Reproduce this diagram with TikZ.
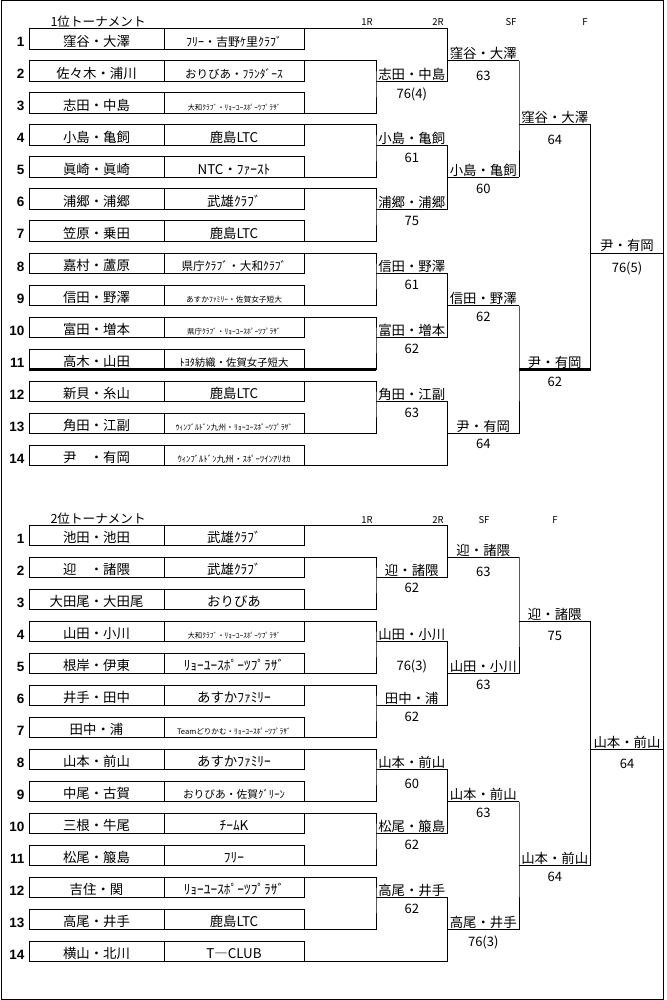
\documentclass[tikz,border=0pt]{standalone}
\usepackage{fontspec}
\usepackage{graphicx}
\setmainfont{Noto Sans CJK JP}
\newfontfamily\numfont{Liberation Sans}
\usetikzlibrary{positioning}

% shrink a long club name to the width of its cell text
\newcommand{\fitw}[2]{\resizebox{#1pt}{!}{#2}}

\tikzset{
  namebox/.style={draw, anchor=north west, minimum width=135pt, minimum height=20.5pt,
    inner sep=0pt, outer sep=0pt, text height=15pt, text depth=0pt,
    font=\fontsize{13.4}{14}\selectfont},
  clubbox/.style={namebox, minimum width=140pt},
  rownum/.style={anchor=base east, inner sep=0pt, font=\numfont\bfseries\fontsize{13.5}{14}\selectfont},
  winner/.style={anchor=south west, minimum width=71.5pt, inner sep=0pt, outer sep=0pt,
    text depth=2pt, font=\fontsize{13.4}{14}\selectfont},
  finalist/.style={winner, minimum width=73pt},
  score/.style={inner sep=0pt, text height=9.5pt, text depth=0pt, font=\fontsize{13}{14}\selectfont},
  roundlabel/.style={inner sep=0pt, font=\fontsize{9.5}{10}\selectfont},
  title/.style={anchor=west, inner sep=0pt, font=\fontsize{12.6}{13}\selectfont},
  heavy/.style={line width=2.2pt},
}

\begin{document}
\begin{tikzpicture}[x=1pt, y=-1pt, line width=1pt]
    \useasboundingbox (0,0) rectangle (666,1000);
    \draw (1,1) rectangle (663.5,999);

    % round columns
    \coordinate (R1) at (376,0);
    \coordinate (R2) at (447.5,0);
    \coordinate (SF) at (519,0);
    \coordinate (FN) at (590.5,0);

    % 1st place tournament
    \node[title] (Atitle) at (50,21.5) {1位トーナメント};
    \node[roundlabel] (Ar1) at (367,22.5) {1R};
    \node[roundlabel] (Ar2) at (438,22.5) {2R};
    \node[roundlabel] (Arsf) at (511,22.5) {SF};
    \node[roundlabel] (Arf) at (585,22.5) {F};
    \foreach \n/\name/\club in {
        1/窪谷・大澤/{\fitw{96}{ﾌﾘｰ・吉野ｹ里ｸﾗﾌﾞ}},
        2/佐々木・浦川/{\fitw{98}{おりびあ・ﾌﾗﾝﾀﾞｰｽ}},
        3/志田・中島/{\fitw{93}{大和ｸﾗﾌﾞ・ﾘｮｰﾕｰｽﾎﾟｰﾂﾌﾟﾗｻﾞ}},
        4/小島・亀飼/鹿島LTC,
        5/眞崎・眞崎/NTC・ﾌｧｰｽﾄ,
        6/浦郷・浦郷/武雄ｸﾗﾌﾞ,
        7/笠原・乗田/鹿島LTC,
        8/嘉村・蘆原/{\fitw{105}{県庁ｸﾗﾌﾞ・大和ｸﾗﾌﾞ}},
        9/信田・野澤/{\fitw{96}{あすかﾌｧﾐﾘｰ・佐賀女子短大}},
        10/富田・増本/{\fitw{94}{県庁ｸﾗﾌﾞ・ﾘｮｰﾕｰｽﾎﾟｰﾂﾌﾟﾗｻﾞ}},
        11/高木・山田/{\fitw{109}{ﾄﾖﾀ紡織・佐賀女子短大}},
        12/新貝・糸山/鹿島LTC,
        13/角田・江副/{\fitw{117}{ｳｨﾝﾌﾞﾙﾄﾞﾝ九州・ﾘｮｰﾕｰｽﾎﾟｰﾂﾌﾟﾗｻﾞ}},
        14/尹　・有岡/{\fitw{113}{ｳｨﾝﾌﾞﾙﾄﾞﾝ九州・ｽﾎﾟｰﾂｲﾝｱﾘｵｶ}}}{
        \pgfmathsetmacro{\rowy}{29+32*(\n-1)}
        \node[namebox] (A\n) at (29,\rowy) {\name};
        \node[clubbox, right=0pt of A\n] (Ac\n) {\club};
        \node[rownum] (An\n) at ([xshift=-4pt,yshift=2.5pt]A\n.south west) {\n};
    }
    \node[winner] (Am23) at (R1 |- A2.south) {志田・中島};
    \node[winner] (Am1) at (R2 |- A2.north) {窪谷・大澤};
    \node[winner] (Am45) at (R1 |- A4.south) {小島・亀飼};
    \node[winner] (Am67) at (R1 |- A6.south) {浦郷・浦郷};
    \node[winner] (Am47) at (R2 |- A5.south) {小島・亀飼};
    \node[winner] (As1) at (SF |- A4.north) {窪谷・大澤};
    \node[winner] (Am89) at (R1 |- A8.south) {信田・野澤};
    \node[winner] (Am1011) at (R1 |- A10.south) {富田・増本};
    \node[winner] (Am811) at (R2 |- A9.south) {信田・野澤};
    \node[winner] (Am1213) at (R1 |- A12.south) {角田・江副};
    \node[winner] (Am14) at (R2 |- A13.south) {尹・有岡};
    \node[winner] (As8) at (SF |- A11.south) {尹・有岡};
    \node[finalist] (Af) at (FN |- A8.north) {尹・有岡};
    \node[score, below=6.75pt of Am23.south] (Ax23) {76(4)};
    \node[score, below=9.25pt of Am1.south] (Ax1) {63};
    \node[score, below=7.25pt of Am45.south] (Ax45) {61};
    \node[score, below=6.25pt of Am67.south] (Ax67) {75};
    \node[score, below=6.25pt of Am47.south] (Ax47) {60};
    \node[score, below=9.25pt of As1.south] (Axs1) {64};
    \node[score, below=6.25pt of Am89.south] (Ax89) {61};
    \node[score, below=6.25pt of Am1011.south] (Ax1011) {62};
    \node[score, below=6.25pt of Am811.south] (Ax811) {62};
    \node[score, below=6.25pt of Am1213.south] (Ax1213) {63};
    \node[score, below=5.25pt of Am14.south] (Ax14) {64};
    \node[score, below=7.25pt of As8.south] (Axs8) {62};
    \node[score, below=9.75pt of Af.south] (Axf) {76(5)};

    % 2nd place tournament
    \node[title] (Btitle) at (50,518.5) {2位トーナメント};
    \node[roundlabel] (Br1) at (367,520) {1R};
    \node[roundlabel] (Br2) at (438,520) {2R};
    \node[roundlabel] (Brsf) at (484,520) {SF};
    \node[roundlabel] (Brf) at (555,520) {F};
    \foreach \n/\name/\club in {
        1/池田・池田/武雄ｸﾗﾌﾞ,
        2/迎　・諸隈/武雄ｸﾗﾌﾞ,
        3/大田尾・大田尾/おりびあ,
        4/山田・小川/{\fitw{93}{大和ｸﾗﾌﾞ・ﾘｮｰﾕｰｽﾎﾟｰﾂﾌﾟﾗｻﾞ}},
        5/根岸・伊東/ﾘｮｰﾕｰｽﾎﾟｰﾂﾌﾟﾗｻﾞ,
        6/井手・田中/あすかﾌｧﾐﾘｰ,
        7/田中・浦/{\fitw{114}{Teamどりかむ・ﾘｮｰﾕｰｽﾎﾟｰﾂﾌﾟﾗｻﾞ}},
        8/山本・前山/あすかﾌｧﾐﾘｰ,
        9/中尾・古賀/{\fitw{102}{おりびあ・佐賀ｸﾞﾘｰﾝ}},
        10/三根・牛尾/ﾁｰﾑK,
        11/松尾・箙島/ﾌﾘｰ,
        12/吉住・関/ﾘｮｰﾕｰｽﾎﾟｰﾂﾌﾟﾗｻﾞ,
        13/高尾・井手/鹿島LTC,
        14/横山・北川/T―CLUB}{
        \pgfmathsetmacro{\rowy}{525+32*(\n-1)}
        \node[namebox] (B\n) at (29,\rowy) {\name};
        \node[clubbox, right=0pt of B\n] (Bc\n) {\club};
        \node[rownum] (Bn\n) at ([xshift=-4pt,yshift=2.5pt]B\n.south west) {\n};
    }
    \node[winner] (Bm23) at (R1 |- B2.south) {迎・諸隈};
    \node[winner] (Bm1) at (R2 |- B2.north) {迎・諸隈};
    \node[winner] (Bm45) at (R1 |- B4.south) {山田・小川};
    \node[winner] (Bm67) at (R1 |- B6.south) {田中・浦};
    \node[winner] (Bm47) at (R2 |- B5.south) {山田・小川};
    \node[winner] (Bs1) at (SF |- B4.north) {迎・諸隈};
    \node[winner] (Bm89) at (R1 |- B8.south) {山本・前山};
    \node[winner] (Bm1011) at (R1 |- B10.south) {松尾・箙島};
    \node[winner] (Bm811) at (R2 |- B9.south) {山本・前山};
    \node[winner] (Bm1213) at (R1 |- B12.south) {高尾・井手};
    \node[winner] (Bm14) at (R2 |- B13.south) {高尾・井手};
    \node[winner] (Bs8) at (SF |- B11.south) {山本・前山};
    \node[finalist] (Bf) at (FN |- B8.north) {山本・前山};
    \node[score, below=4.75pt of Bm23.south] (Bx23) {62};
    \node[score, below=9.75pt of Bm1.south] (Bx1) {63};
    \node[score, below=19.25pt of Bm45.south] (Bx45) {76(3)};
    \node[score, below=5.75pt of Bm67.south] (Bx67) {62};
    \node[score, below=6.25pt of Bm47.south] (Bx47) {63};
    \node[score, below=9.25pt of Bs1.south] (Bxs1) {75};
    \node[score, below=9.25pt of Bm89.south] (Bx89) {60};
    \node[score, below=6.25pt of Bm1011.south] (Bx1011) {62};
    \node[score, below=6.25pt of Bm811.south] (Bx811) {63};
    \node[score, below=6.25pt of Bm1213.south] (Bx1213) {62};
    \node[score, below=7.25pt of Bm14.south] (Bx14) {76(3)};
    \node[score, below=6.25pt of Bs8.south] (Bxs8) {64};
    \node[score, below=9.25pt of Bf.south] (Bxf) {64};

    % bracket lines, same draw for both tournaments
    \foreach \t in {A,B}{
        \draw (\t c2.north east) -| (\t m23.south west) |- (\t c3.south east);
        \draw (\t c1.north east) -| (\t m1.south west) |- (\t m23.south east);
        \draw (\t c4.north east) -| (\t m45.south west) |- (\t c5.south east);
        \draw (\t c6.north east) -| (\t m67.south west) |- (\t c7.south east);
        \draw (\t m45.south east) -| (\t m47.south west) |- (\t m67.south east);
        \draw (\t m1.south east) -| (\t s1.south west) |- (\t m47.south east);
        \draw (\t c8.north east) -| (\t m89.south west) |- (\t c9.south east);
        \draw (\t c10.north east) -| (\t m1011.south west) |- (\t c11.south east);
        \draw (\t m89.south east) -| (\t m811.south west) |- (\t m1011.south east);
        \draw (\t c12.north east) -| (\t m1213.south west) |- (\t c13.south east);
        \draw (\t m1213.south east) -| (\t m14.south west) |- (\t c14.south east);
        \draw (\t m811.south east) -| (\t s8.south west) |- (\t m14.south east);
        \draw (\t s1.south east) -| (\t f.south west) |- (\t s8.south east);
        \foreach \m in {m23,m1,m45,m67,m47,s1,m89,m1011,m811,m1213,m14,s8,f}
            \draw (\t\m.south west) -- (\t\m.south east);
    }
    \draw[heavy] (A11.south west) -- (A11.south west -| R1);
    \draw[heavy] (As8.south west) -- (As8.south east);
\end{tikzpicture}
\end{document}
